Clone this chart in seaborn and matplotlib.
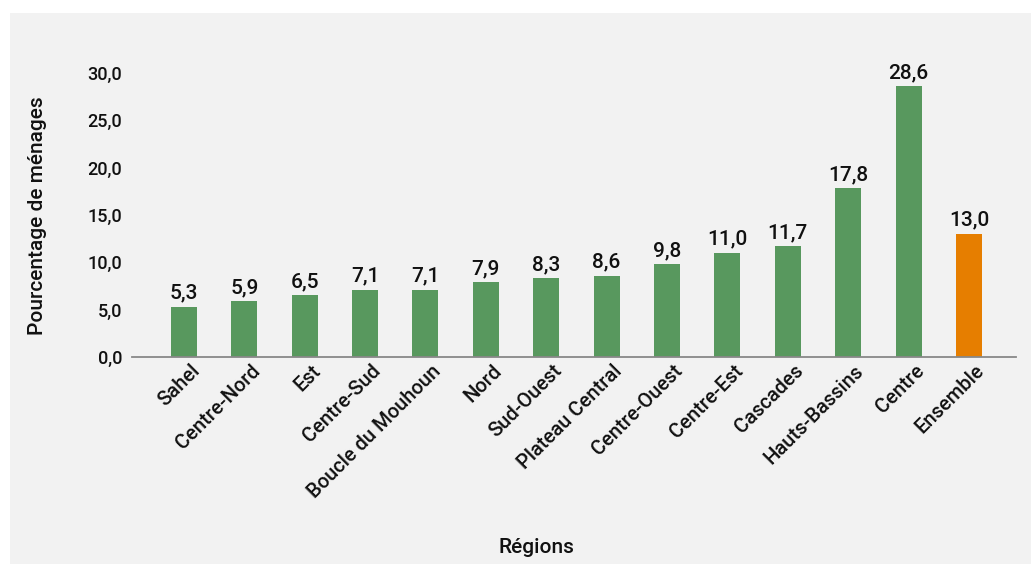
import matplotlib
matplotlib.use("Agg")
import matplotlib.pyplot as plt
import matplotlib.transforms as mtransforms
import seaborn as sns
import pandas as pd
from matplotlib.patches import Rectangle

regions = ["Sahel", "Centre-Nord", "Est", "Centre-Sud", "Boucle du Mouhoun", "Nord",
           "Sud-Ouest", "Plateau Central", "Centre-Ouest", "Centre-Est", "Cascades",
           "Hauts-Bassins", "Centre", "Ensemble"]
values = [5.3, 5.9, 6.5, 7.1, 7.1, 7.9, 8.3, 8.6, 9.8, 11.0, 11.7, 17.8, 28.6, 13.0]
yticks = [0, 5, 10, 15, 20, 25, 30]
green = "#58985E"
orange = "#E67E00"
colors = [green] * (len(regions) - 1) + [orange]

df = pd.DataFrame({"Région": regions, "Valeur": values})

sns.set_theme(style="white")
plt.rcParams["font.family"] = ["Roboto", "DejaVu Sans"]
W = "medium"
TC = "#111111"

fig = plt.figure(figsize=(10.31, 5.65), dpi=100)
fig.patch.set_facecolor("white")
bg = Rectangle((10 / 1031, 1 - 564 / 565), 1 - 10 / 1031, (564 - 13) / 565,
               transform=fig.transFigure, facecolor="#F2F2F2", edgecolor="none", zorder=-10)
fig.patches.append(bg)

ax = fig.add_axes([132 / 1031, 1 - 357 / 565, (1016 - 132) / 1031, (357 - 25.6) / 565])
ax.set_facecolor("none")

sns.barplot(data=df, x="Région", y="Valeur", hue="Région", palette=colors,
            legend=False, width=0.43, ax=ax, saturation=1, linewidth=0)

ax.set_ylim(0, 35)
ax.set_xlim(-0.86, len(regions) - 1 + 0.78)
ax.set_yticks(yticks)
ax.set_yticklabels([f"{v:.1f}".replace(".", ",") for v in yticks], fontsize=13,
                   color=TC, fontweight=W)
ax.tick_params(axis="y", length=0, pad=7)
ax.tick_params(axis="x", length=0, pad=3)

offset = mtransforms.ScaledTranslation(6 / 100, 0, fig.dpi_scale_trans)
for lbl in ax.get_xticklabels():
    lbl.set_rotation(45)
    lbl.set_ha("right")
    lbl.set_rotation_mode("anchor")
    lbl.set_fontsize(14.5)
    lbl.set_fontweight(W)
    lbl.set_color(TC)
    lbl.set_transform(lbl.get_transform() + offset)

for i, v in enumerate(values):
    ax.annotate(f"{v:.1f}".replace(".", ","), (i, v), xytext=(0, 3), textcoords="offset points",
                ha="center", va="bottom", fontsize=15, color=TC, fontweight=W)

for s in ["top", "right", "left"]:
    ax.spines[s].set_visible(False)
ax.spines["bottom"].set_color("#888888")
ax.spines["bottom"].set_linewidth(1.3)

ax.set_ylabel("Pourcentage de ménages", fontsize=15, color=TC, fontweight=W)
ax.yaxis.set_label_coords(-0.096, 0.425)
ax.set_xlabel("Régions", fontsize=15, color=TC, fontweight=W)
ax.xaxis.set_label_coords(0.458, -0.546)

fig.savefig("out.png", dpi=100, facecolor=fig.get_facecolor())
